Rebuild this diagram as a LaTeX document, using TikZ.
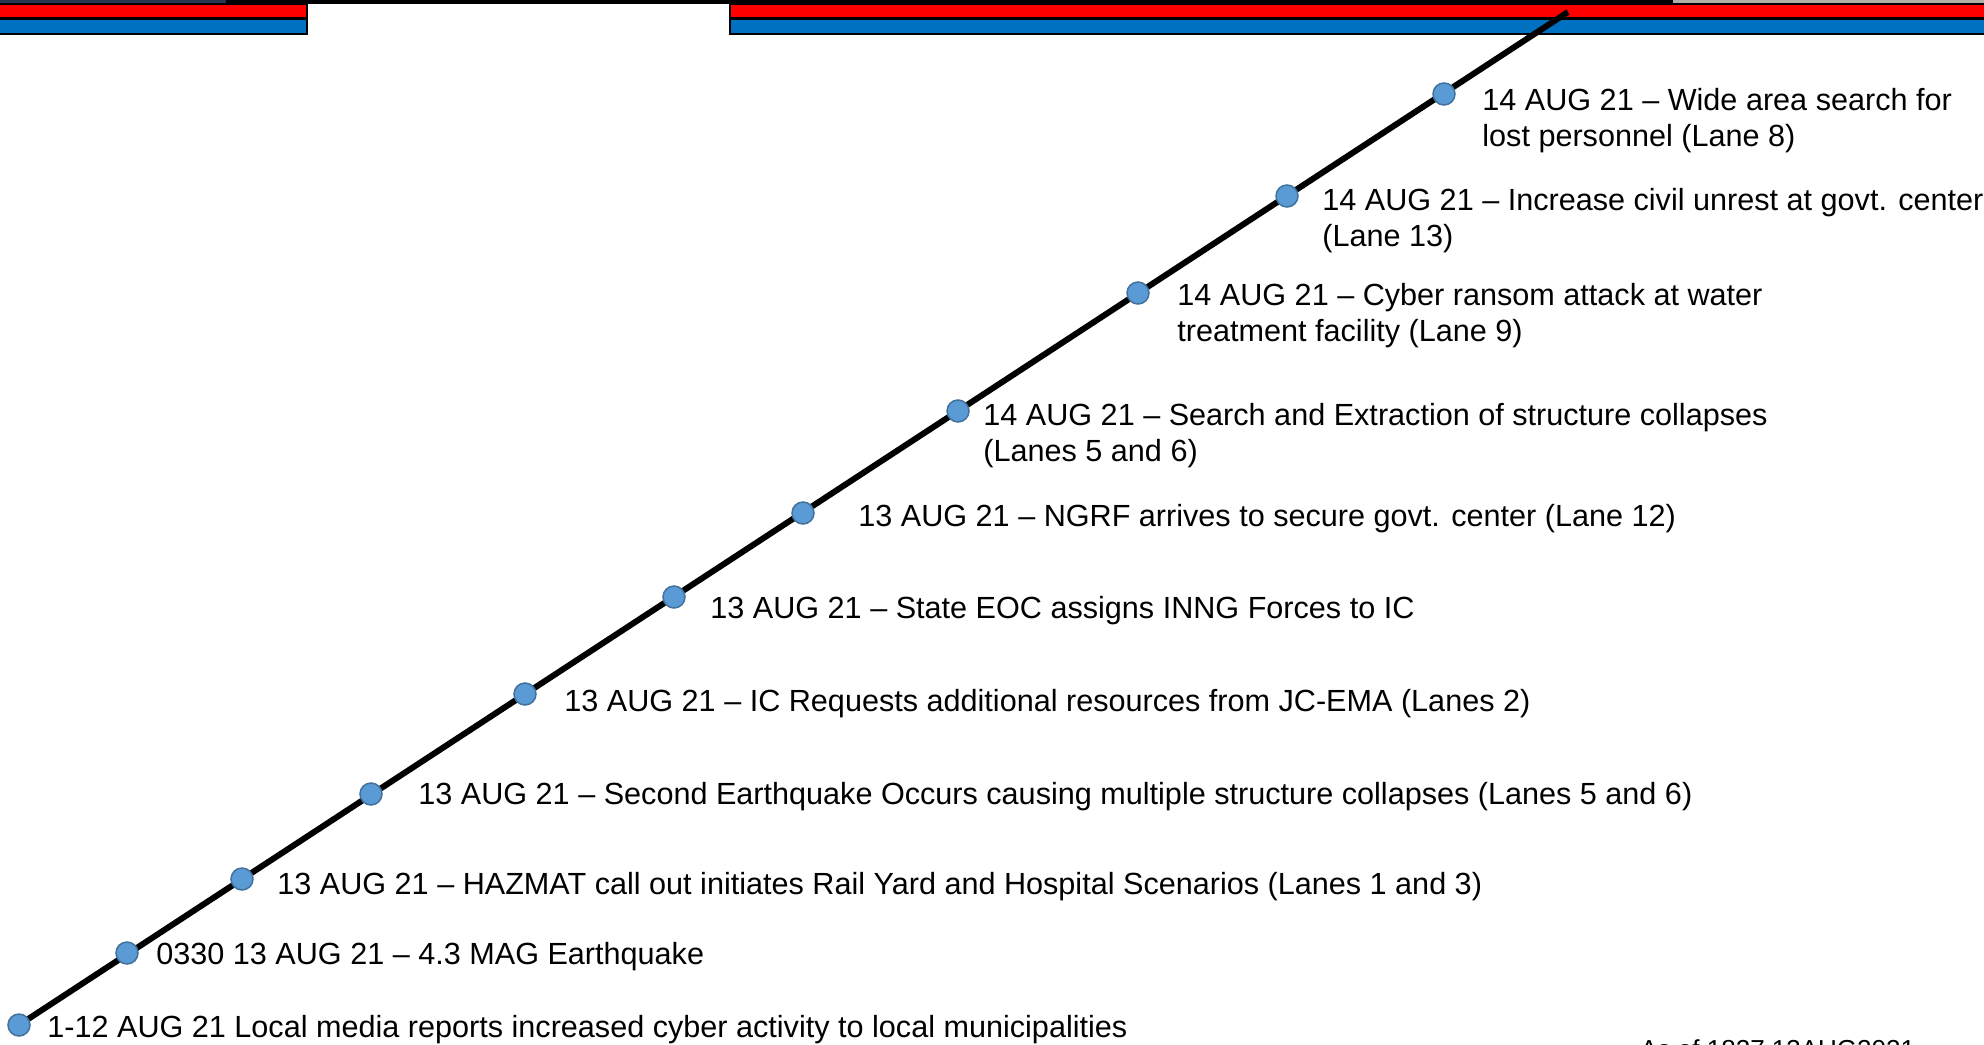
\documentclass[tikz,border=0pt]{standalone}
\usepackage{fontspec}
\setmainfont{Liberation Sans}
\usetikzlibrary{positioning}
\definecolor{barred}{RGB}{255,0,0}
\definecolor{barblue}{RGB}{0,112,192}
\definecolor{dotfill}{RGB}{91,155,213}
\definecolor{dotedge}{RGB}{65,113,156}
\definecolor{topnavy}{RGB}{40,52,80}
\definecolor{topgray}{RGB}{176,172,168}
\tikzset{
  evdot/.style={circle,fill=dotfill,draw=dotedge,line width=0.75pt,minimum size=11pt,inner sep=0pt},
  evtext/.style={anchor=west,inner sep=0pt,align=left,font=\fontsize{15.3pt}{18pt}\selectfont},
  timeline/.style={line width=3pt,black}
}
\begin{document}
\begin{tikzpicture}[x=0.5pt,y=-0.5pt]
  \clip (0,0) rectangle (1984,1044);
  \fill[white] (0,0) rectangle (1984,1044);
  \fill[topnavy] (0,0) rectangle (226,4);
  \fill[black] (226,0) rectangle (1673,4);
  \fill[topgray] (1673,0) rectangle (1984,3);
  \draw[fill=barred,line width=0.8pt] (-5,4) rectangle (307,18);
  \draw[fill=barblue,line width=0.8pt] (-5,19) rectangle (307,34);
  \draw[fill=barred,line width=0.8pt] (730,4) rectangle (1995,18);
  \draw[fill=barblue,line width=0.8pt] (730,19) rectangle (1995,34);

  \coordinate (tlstart) at (19,1025);
  \coordinate (tlend) at (1568,12);
  \draw[timeline] (tlstart) -- (tlend);

  \node[evdot] (d1) at (tlstart) {};
  \node[evdot] (d2) at (127,953) {};
  \node[evdot] (d3) at (242,879) {};
  \node[evdot] (d4) at (371,794) {};
  \node[evdot] (d5) at (525,694) {};
  \node[evdot] (d6) at (674,597) {};
  \node[evdot] (d7) at (803,513) {};
  \node[evdot] (d8) at (958,411) {};
  \node[evdot] (d9) at (1138,293) {};
  \node[evdot] (d10) at (1287,196) {};
  \node[evdot] (d11) at (1444,94) {};

  \node[evtext] (t1) at (47,1030) {1-12 AUG 21 Local media reports increased cyber activity to local municipalities};
  \node[evtext] (t2) at (156,957) {0330 13 AUG 21 – 4.3 MAG Earthquake};
  \node[evtext] (t3) at (277,887) {13 AUG 21 – HAZMAT call out initiates Rail Yard and Hospital Scenarios (Lanes 1 and 3)};
  \node[evtext] (t4) at (418,797) {13 AUG 21 – Second Earthquake Occurs causing multiple structure collapses (Lanes 5 and 6)};
  \node[evtext] (t5) at (564,704) {13 AUG 21 – IC Requests additional resources from JC-EMA (Lanes 2)};
  \node[evtext] (t6) at (710,611) {13 AUG 21 – State EOC assigns INNG Forces to IC};
  \node[evtext] (t7) at (858,519) {13 AUG 21 – NGRF arrives to secure govt. center (Lane 12)};
  \node[evtext] (t8) at (983,436) {14 AUG 21 – Search and Extraction of structure collapses\\(Lanes 5 and 6)};
  \node[evtext] (t9) at (1177,316) {14 AUG 21 – Cyber ransom attack at water\\treatment facility (Lane 9)};
  \node[evtext] (t10) at (1322,221) {14 AUG 21 – Increase civil unrest at govt. center\\(Lane 13)};
  \node[evtext] (t11) at (1482,121) {14 AUG 21 – Wide area search for\\lost personnel (Lane 8)};

  \node[anchor=base west,inner sep=0pt,font=\fontsize{13pt}{15pt}\selectfont] (asof) at (1640,1058) {As of 1827 13AUG2021};
\end{tikzpicture}
\end{document}
